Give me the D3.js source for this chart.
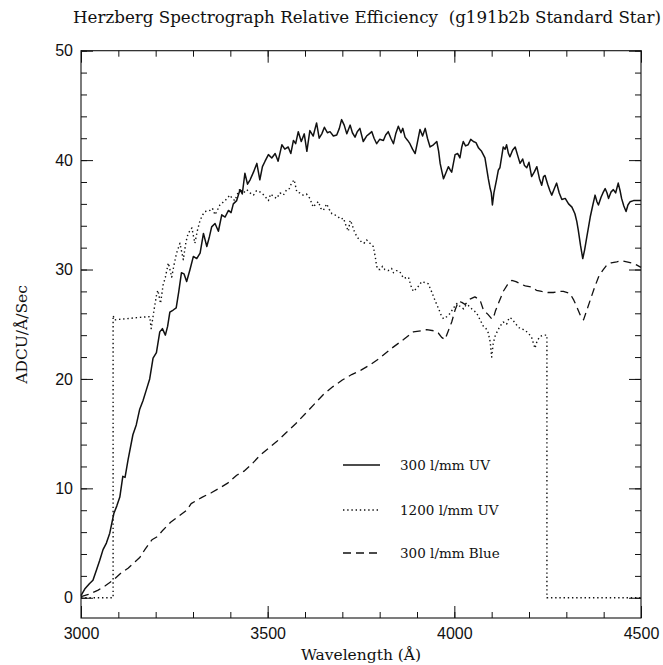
<!DOCTYPE html>
<html>
<head>
<meta charset="utf-8">
<script src="https://cdn.jsdelivr.net/npm/d3@7"></script>
<style>
  body { margin: 0; background: #fff; }
  svg { display: block; }
  .tick line { stroke: #111; stroke-width: 1; }
  .tick text { font-family: "Liberation Sans", Arial, sans-serif; font-size: 16px; fill: #111; }
  .serif { font-family: "DejaVu Serif", "Liberation Serif", serif; fill: #111; }
</style>
</head>
<body>
<div id="chart"></div>
<script>
// 300 l/mm UV (solid)
const uv300Wave = [3000,3010,3023,3032,3041,3050,3059,3068,3077,3088,3096,3104,3112,3118,3126,3139,3148,3157,3166,3175,3184,3193,3202,3211,3218,3226,3232,3238,3247,3255,3262,3269,3276,3283,3292,3301,3310,3319,3328,3337,3344,3350,3359,3368,3377,3386,3395,3402,3408,3417,3426,3432,3439,3446,3453,3462,3471,3479,3486,3493,3502,3511,3520,3528,3538,3546,3555,3562,3569,3575,3582,3590,3598,3605,3613,3622,3631,3638,3645,3652,3660,3667,3676,3685,3692,3698,3705,3712,3721,3727,3734,3740,3747,3756,3765,3772,3779,3785,3792,3800,3810,3816,3823,3830,3837,3843,3850,3857,3862,3868,3875,3881,3888,3895,3901,3908,3915,3922,3928,3935,3944,3953,3958,3962,3967,3971,3977,3984,3989,3993,3998,4002,4009,4015,4020,4024,4030,4037,4044,4051,4058,4065,4073,4082,4091,4096,4099,4102,4106,4113,4118,4122,4131,4136,4140,4145,4149,4156,4163,4169,4176,4183,4188,4194,4200,4207,4214,4221,4228,4234,4239,4243,4250,4256,4261,4268,4274,4281,4288,4297,4306,4315,4323,4328,4332,4338,4344,4349,4355,4360,4364,4371,4377,4382,4386,4393,4398,4404,4409,4413,4420,4426,4432,4439,4444,4448,4454,4460,4465,4471,4480,4489,4500];
const uv300Flux = [0.2,0.8,1.3,1.6,2.5,3.4,4.4,5.0,5.9,7.7,8.4,9.2,11.1,11.0,12.6,14.9,15.8,17.2,18.0,19.0,20.0,21.9,22.4,24.3,24.6,24.0,24.8,26.1,26.3,26.5,28.0,29.7,29.6,28.9,30.0,31.2,31.0,31.5,33.3,32.1,33.0,33.9,34.2,33.5,35.0,34.8,35.4,35.2,36.0,36.3,37.3,36.9,38.8,37.8,38.2,38.9,39.7,38.2,39.4,39.9,40.5,40.2,40.6,39.9,41.4,41.0,41.2,40.6,41.8,41.5,42.6,41.7,42.4,40.8,42.7,42.2,43.4,42.0,42.4,43.0,42.5,42.6,42.2,42.3,42.9,43.7,43.2,42.4,43.2,42.5,42.1,42.6,42.9,41.7,42.2,42.4,42.6,42.0,41.5,41.9,41.8,42.3,42.6,42.0,41.5,42.4,43.1,42.5,42.9,42.1,41.8,41.5,41.0,40.6,41.6,42.8,42.2,42.9,42.0,41.2,41.4,41.7,40.8,39.7,38.9,38.3,38.8,39.4,39.1,38.9,39.8,40.5,40.6,40.2,41.2,41.7,41.3,41.4,41.9,41.7,41.6,41.1,40.8,40.2,38.3,37.4,37.0,35.9,37.0,38.2,39.1,39.3,41.2,41.0,41.4,40.6,40.3,40.9,41.2,40.5,39.7,40.1,39.5,39.3,39.8,38.5,38.9,39.4,38.3,37.7,38.5,38.6,37.8,37.2,36.8,37.4,37.9,37.0,36.4,36.5,36.0,35.7,35.1,34.4,33.6,32.2,31.0,31.8,33.0,34.0,34.8,35.9,36.8,36.2,35.9,36.6,37.0,37.4,37.0,36.5,37.1,37.3,37.0,37.9,37.2,36.5,35.8,35.3,35.9,36.2,36.3,36.3,36.3];

// 1200 l/mm UV (dotted)
const uv1200Wave = [3000,3086,3086,3090,3120,3150,3184,3188,3197,3203,3206,3213,3220,3226,3234,3243,3249,3256,3265,3274,3281,3287,3297,3305,3312,3319,3326,3332,3345,3352,3359,3365,3372,3379,3386,3399,3405,3412,3419,3426,3435,3444,3453,3462,3470,3479,3490,3502,3508,3515,3524,3533,3542,3551,3558,3564,3571,3578,3586,3595,3604,3613,3622,3629,3636,3642,3649,3658,3665,3672,3680,3689,3696,3703,3710,3716,3721,3725,3732,3739,3746,3752,3758,3765,3774,3783,3788,3792,3796,3801,3808,3814,3823,3832,3837,3845,3854,3864,3877,3884,3890,3900,3913,3922,3930,3940,3948,3958,3965,3971,3980,3989,3998,4007,4016,4025,4032,4038,4047,4054,4060,4069,4078,4085,4091,4096,4100,4104,4109,4113,4122,4131,4140,4147,4154,4163,4170,4176,4187,4198,4207,4216,4222,4230,4240,4248,4248,4500];
const uv1200Flux = [0,0,25.8,25.4,25.5,25.6,25.7,24.6,26.6,27.8,28.1,26.9,28.6,29.3,30.6,29.3,30.4,31.5,32.4,30.9,32.5,33.3,33.8,32.4,33.6,34.5,35.0,35.3,35.4,35.6,35.0,35.4,35.9,36.1,36.3,36.8,36.5,36.3,36.9,37.4,37.0,37.3,37.0,36.8,37.2,37.1,36.8,36.3,36.9,36.7,36.5,37.0,36.8,37.3,37.4,37.9,38.2,37.1,37.0,36.8,36.9,36.5,35.7,36.0,36.2,35.6,35.4,36.0,35.5,35.1,35.0,34.8,34.6,34.7,34.0,33.5,34.5,34.2,33.5,33.0,32.7,32.5,32.4,32.7,32.4,32.1,31.2,30.3,30.0,30.0,30.3,30.0,29.9,30.1,29.7,29.9,29.8,29.2,29.3,28.5,28.0,28.3,28.9,28.8,28.7,27.9,27.2,26.4,25.8,25.5,25.7,26.0,26.5,26.9,26.6,26.4,26.8,26.7,26.4,26.2,26.0,25.4,24.8,24.6,24.2,23.4,22.0,23.2,23.9,24.2,24.8,25.2,25.0,25.6,25.5,25.1,24.8,24.6,24.5,24.2,23.8,22.8,23.5,23.9,24.0,24.0,0,0];

// 300 l/mm Blue (dashed)
const blue300Wave = [3000,3020,3046,3065,3086,3105,3126,3145,3158,3171,3190,3205,3220,3240,3260,3283,3295,3305,3325,3349,3370,3394,3417,3438,3460,3479,3500,3525,3550,3575,3600,3625,3650,3675,3700,3725,3750,3775,3800,3832,3864,3890,3910,3926,3945,3957,3966,3975,3985,3993,4002,4011,4020,4029,4042,4055,4069,4078,4090,4100,4104,4110,4118,4131,4142,4154,4165,4176,4190,4207,4220,4234,4250,4265,4280,4292,4310,4320,4328,4340,4346,4355,4364,4375,4386,4397,4408,4420,4435,4448,4462,4475,4489,4500];
const blue300Flux = [0.1,0.3,0.7,1.1,1.6,2.2,2.7,3.3,3.7,4.4,5.3,5.6,6.2,6.9,7.4,8.0,8.6,8.8,9.2,9.6,10.0,10.5,11.2,11.6,12.3,13.0,13.6,14.3,15.1,15.9,16.8,17.7,18.6,19.3,19.9,20.4,20.8,21.3,21.9,22.8,23.6,24.3,24.4,24.5,24.4,24.2,23.8,23.6,24.5,25.2,26.3,27.1,27.0,26.8,27.3,27.5,27.2,26.3,25.9,25.5,25.5,26.2,26.9,28.0,28.6,29.0,28.9,28.7,28.5,28.4,28.1,28.0,27.9,27.9,28.0,28.0,27.8,27.2,26.6,25.6,25.4,26.3,27.2,28.3,29.3,29.9,30.4,30.6,30.7,30.8,30.7,30.6,30.4,30.2];

const seriesNames = ['300 l/mm UV', '1200 l/mm UV', '300 l/mm Blue'];
const xMajorTicks = [3000, 3500, 4000, 4500];
const yMajorTicks = [0, 10, 20, 30, 40, 50];

const width = 663, height = 665;
const box = { left: 81, right: 641, top: 50.7, bottom: 618 };

const svg = d3.select('#chart').append('svg')
  .attr('width', width).attr('height', height);

const x = d3.scaleLinear().domain([3000, 4500]).range([box.left, box.right]);
const y = d3.scaleLinear().domain([-1.85, 50]).range([box.bottom, box.top]);

const styles = [
  { dash: null, w: 1.5 },
  { dash: '1.4,2.8', w: 1.4 },
  { dash: '8,5', w: 1.3 }
];

// frame
svg.append('rect')
  .attr('x', box.left).attr('y', box.top)
  .attr('width', box.right - box.left).attr('height', box.bottom - box.top)
  .attr('fill', 'none').attr('stroke', '#111').attr('stroke-width', 1.1);

const minorX = d3.range(3000, 4501, 100);
const minorY = d3.range(0, 51, 2);

function addAxis(axis, tx, ty) {
  const g = svg.append('g').attr('transform', `translate(${tx},${ty})`).call(axis);
  g.select('.domain').remove();
  return g;
}

// minor ticks, all four sides pointing in
addAxis(d3.axisBottom(x).tickValues(minorX).tickSizeInner(-6).tickSizeOuter(0).tickFormat(''), 0, box.bottom);
addAxis(d3.axisTop(x).tickValues(minorX).tickSizeInner(-6).tickSizeOuter(0).tickFormat(''), 0, box.top);
addAxis(d3.axisLeft(y).tickValues(minorY).tickSizeInner(-6).tickSizeOuter(0).tickFormat(''), box.left, 0);
addAxis(d3.axisRight(y).tickValues(minorY).tickSizeInner(-6).tickSizeOuter(0).tickFormat(''), box.right, 0);

// major ticks + labels
addAxis(d3.axisBottom(x).tickValues(xMajorTicks).tickSizeInner(-12).tickSizeOuter(0).tickPadding(9.5).tickFormat(d3.format('d')), 0, box.bottom);
addAxis(d3.axisTop(x).tickValues(xMajorTicks).tickSizeInner(-12).tickSizeOuter(0).tickFormat(''), 0, box.top);
addAxis(d3.axisLeft(y).tickValues(yMajorTicks).tickSizeInner(-12).tickSizeOuter(0).tickPadding(8).tickFormat(d3.format('d')), box.left, 0);
addAxis(d3.axisRight(y).tickValues(yMajorTicks).tickSizeInner(-12).tickSizeOuter(0).tickFormat(''), box.right, 0);

// curves
const line = d3.line().x(d => x(d[0])).y(d => y(d[1]));
const data = [
  d3.zip(uv300Wave, uv300Flux),
  d3.zip(uv1200Wave, uv1200Flux),
  d3.zip(blue300Wave, blue300Flux)
];

data.forEach(function (pts, i) {
  svg.append('path')
    .datum(pts)
    .attr('d', line)
    .attr('fill', 'none')
    .attr('stroke', '#111')
    .attr('stroke-width', styles[i].w)
    .attr('stroke-linejoin', 'round')
    .attr('stroke-dasharray', styles[i].dash);
});

// legend
const legend = svg.append('g');
const legendY = [465, 510, 553];
seriesNames.forEach(function (name, i) {
  legend.append('line')
    .attr('x1', 343).attr('x2', 380)
    .attr('y1', legendY[i]).attr('y2', legendY[i])
    .attr('stroke', '#111')
    .attr('stroke-width', styles[i].w)
    .attr('stroke-dasharray', styles[i].dash);
  legend.append('text')
    .attr('class', 'serif')
    .attr('x', 400).attr('y', legendY[i])
    .attr('dy', '0.35em')
    .attr('font-size', 13.5)
    .text(name);
});

// titles
svg.append('text')
  .attr('class', 'serif')
  .attr('x', 367).attr('y', 23)
  .attr('text-anchor', 'middle')
  .attr('font-size', 16.5)
  .attr('textLength', 588)
  .attr('lengthAdjust', 'spacingAndGlyphs')
  .style('white-space', 'pre')
  .text('Herzberg Spectrograph Relative Efficiency  (g191b2b Standard Star)');

svg.append('text')
  .attr('class', 'serif')
  .attr('x', (box.left + box.right) / 2).attr('y', 660)
  .attr('text-anchor', 'middle')
  .attr('font-size', 15.5)
  .text('Wavelength (Å)');

svg.append('text')
  .attr('class', 'serif')
  .attr('transform', `translate(27,${(box.top + box.bottom) / 2}) rotate(-90)`)
  .attr('text-anchor', 'middle')
  .attr('font-size', 15.5)
  .text('ADCU/Å/Sec');
</script>
</body>
</html>
